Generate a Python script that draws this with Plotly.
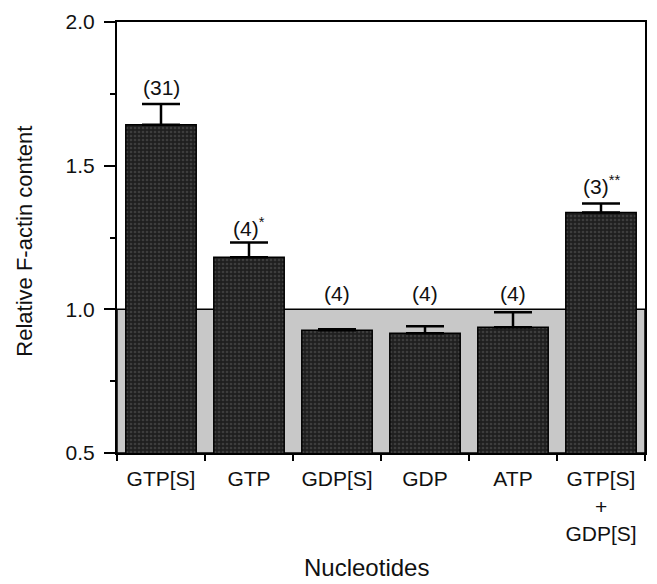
import plotly.graph_objects as go

categories = ["GTP[S]", "GTP", "GDP[S]", "GDP", "ATP", "GTP[S]<br>+<br>GDP[S]"]
values = [1.642, 1.181, 0.927, 0.917, 0.938, 1.337]
errors = [0.073, 0.052, 0.004, 0.024, 0.052, 0.031]
n_labels = ["(31)", "(4)<sup>*</sup>", "(4)", "(4)", "(4)", "(3)<sup>**</sup>"]
label_y = [1.771, 1.285, 1.056, 1.056, 1.056, 1.431]
baseline = 1.0
y_min, y_max = 0.5, 2.0

FONT = "Liberation Sans, Arial, Helvetica, sans-serif"

fig = go.Figure()
fig.add_trace(go.Bar(
    x=categories, y=values, width=0.8,
    marker=dict(
        color="#2a2a2a",
        line=dict(color="black", width=1.5),
        pattern=dict(shape=".", fgcolor="#5c5c5c", bgcolor="#1f1f1f", size=4, solidity=0.35),
    ),
    error_y=dict(type="data", array=errors, arrayminus=[0] * len(errors), symmetric=False,
                 color="black", thickness=2.5, width=19, visible=True),
    showlegend=False,
))

fig.add_shape(type="rect", xref="paper", yref="y", x0=0, x1=1, y0=y_min, y1=baseline,
              fillcolor="#c8c8c8", line=dict(color="black", width=1.5), layer="below")

for c, t, ly in zip(categories, n_labels, label_y):
    fig.add_annotation(x=c, y=ly, text=t, showarrow=False, xref="x", yref="y",
                       font=dict(family=FONT, size=21, color="#111"))

fig.add_annotation(text="Relative F-actin content", xref="paper", yref="paper",
                   x=-0.1755, y=0.491, textangle=-90, showarrow=False,
                   xanchor="center", yanchor="middle",
                   font=dict(family=FONT, size=22, color="#111"))
fig.add_annotation(text="Nucleotides", xref="paper", yref="paper",
                   x=0.472, y=-0.266, showarrow=False, xanchor="center", yanchor="middle",
                   font=dict(family=FONT, size=24, color="#111"))

fig.update_layout(
    width=657, height=584,
    margin=dict(l=117, r=10, t=21, b=131),
    paper_bgcolor="white", plot_bgcolor="white",
    font=dict(family=FONT, size=21, color="#111"),
    bargap=0.2,
)
fig.update_xaxes(
    type="category", showline=True, mirror=True, linecolor="black", linewidth=2,
    ticks="outside", tickson="boundaries", ticklen=6, tickwidth=2, tickcolor="black",
    ticklabelstandoff=6,
    showgrid=False, tickfont=dict(family=FONT, size=21, color="#111"),
)
fig.update_yaxes(
    range=[y_min, y_max], dtick=0.5, tickformat=".1f",
    showline=True, mirror=True, linecolor="black", linewidth=2,
    ticks="outside", ticklen=11, tickwidth=2, tickcolor="black",
    ticklabelstandoff=5,
    minor=dict(dtick=0.25, ticks="outside", ticklen=5, tickwidth=2, tickcolor="black", showgrid=False),
    showgrid=False, zeroline=False, tickfont=dict(family=FONT, size=21, color="#111"),
)

fig.write_html("out.html")
